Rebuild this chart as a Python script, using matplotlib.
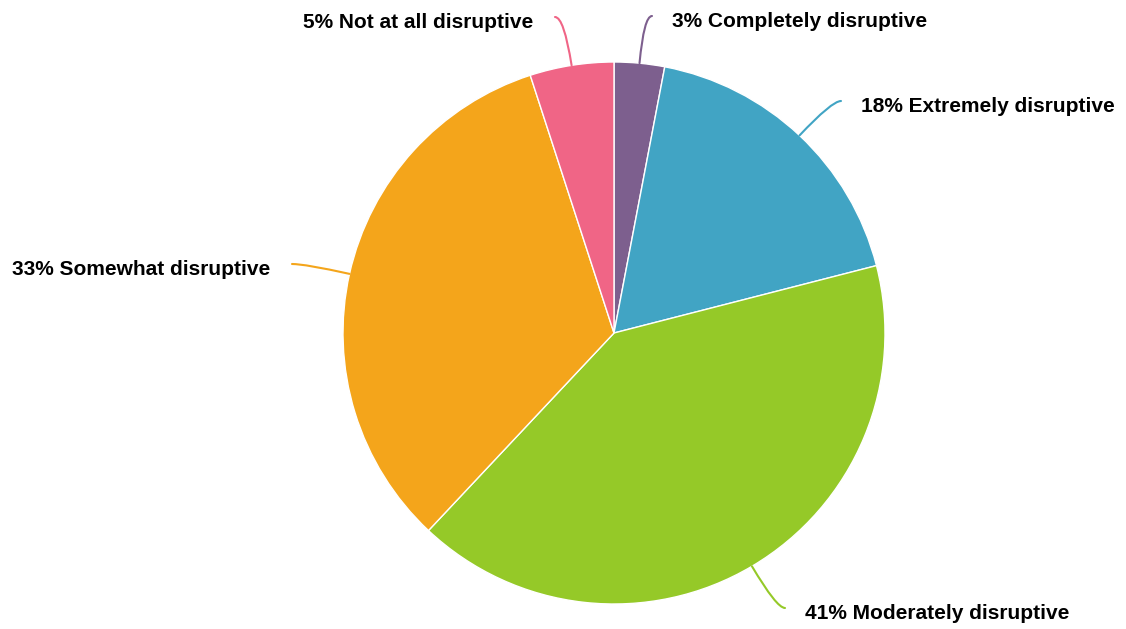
import numpy as np
import matplotlib
matplotlib.use("Agg")
import matplotlib.pyplot as plt

# Share of respondents by how disruptive they found it
categories = ["Completely disruptive", "Extremely disruptive", "Moderately disruptive",
              "Somewhat disruptive", "Not at all disruptive"]
values = [3, 18, 41, 33, 5]
colors = ["#7d5f8e", "#41a4c4", "#95c928", "#f4a51b", "#f06586"]

W, H = 1126, 629
fig = plt.figure(figsize=(W / 100, H / 100), dpi=100)
ax = fig.add_axes([0, 0, 1, 1])

cx, cy, r = 614, H - 333, 271
wedges, _ = ax.pie(values, colors=colors, startangle=90, counterclock=False,
                   center=(cx, cy), radius=r, frame=True,
                   wedgeprops=dict(edgecolor="white", linewidth=1))
ax.set_xlim(0, W)
ax.set_ylim(0, H)
ax.set_aspect("equal")
ax.axis("off")

# end points of the leader lines (pixel layout, y measured from top)
line_ends = [(652, 16), (841, 101), (785, 608), (292, 264), (555, 17)]

for w, cat, val, col, (ex, ey) in zip(wedges, categories, values, colors, line_ends):
    mid = np.deg2rad((w.theta1 + w.theta2) / 2)
    px, py = cx + r * np.cos(mid), cy + r * np.sin(mid)
    ey = H - ey
    right = ex > cx
    ax.annotate("", xy=(px, py), xytext=(ex, ey),
                arrowprops=dict(arrowstyle="-", color=col, lw=1.5,
                                shrinkA=0, shrinkB=0,
                                connectionstyle=f"angle3,angleA=0,angleB={np.rad2deg(mid):.1f}"))
    tx = ex + 20 if right else ex - 22
    ax.text(tx, ey - 5.5, f"{val}% {cat}",
            ha="left" if right else "right", va="center",
            fontsize=15, fontweight="bold", family="Liberation Sans", color="#000000")

fig.savefig("out.png", dpi=100)
